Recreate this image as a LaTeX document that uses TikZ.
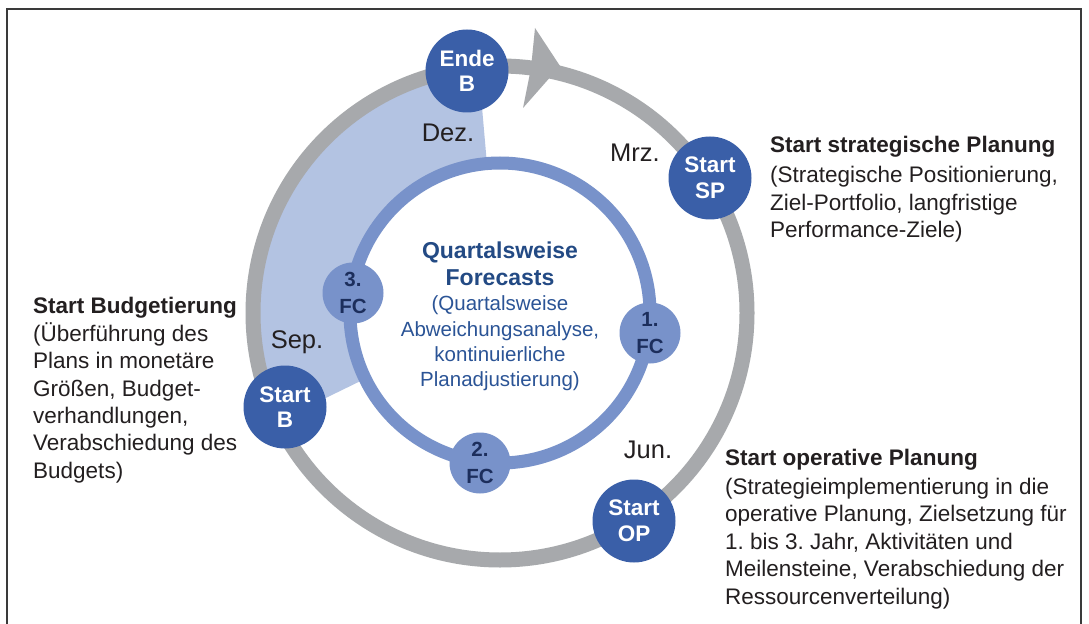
\documentclass[tikz,border=0pt]{standalone}
\usepackage{fontspec}
\setmainfont{Liberation Sans}
\definecolor{ringgray}{HTML}{A7A9AC}
\definecolor{wedgeblue}{HTML}{B3C3E2}
\definecolor{ringblue}{HTML}{7892CA}
\definecolor{nodeblue}{HTML}{3A5FA8}
\definecolor{fcnavy}{HTML}{1C2E5C}
\definecolor{titleblue}{HTML}{234A84}
\definecolor{captionblue}{HTML}{2B5496}
\definecolor{txtblack}{HTML}{231F20}
\definecolor{framegray}{HTML}{3A3A3A}
\tikzset{
  outerring/.style={draw=ringgray, line width=15bp},
  innerring/.style={draw=ringblue, line width=13bp},
  milestone/.style={circle, fill=nodeblue, text=white, inner sep=0pt,
    minimum size=83bp, align=center,
    font=\bfseries\fontsize{22.5bp}{25.5bp}\selectfont},
  fcnode/.style={circle, fill=ringblue, text=fcnavy, inner sep=0pt,
    minimum size=61bp, align=center,
    font=\bfseries\fontsize{20.5bp}{27bp}\selectfont},
  month/.style={anchor=base, inner sep=0pt, text=txtblack,
    font=\fontsize{25.5bp}{30bp}\selectfont},
  heading/.style={anchor=base west, inner sep=0pt, text=txtblack,
    font=\bfseries\fontsize{22.5bp}{27bp}\selectfont},
  bodyline/.style={anchor=base west, inner sep=0pt, text=txtblack,
    font=\fontsize{22.5bp}{27bp}\selectfont},
  centertitle/.style={anchor=base, inner sep=0pt, text=titleblue,
    font=\bfseries\fontsize{23bp}{27bp}\selectfont},
  centerline/.style={anchor=base, inner sep=0pt, text=captionblue,
    font=\fontsize{20.5bp}{25bp}\selectfont},
}
\begin{document}
\frenchspacing
\begin{tikzpicture}[x=1bp,y=-1bp]
\useasboundingbox (0,0) rectangle (1089,624);
\fill[white] (0,0) rectangle (1089,624);

% frame, open at the bottom
\draw[framegray, line width=2.5bp] (7,624) -- (7,9) -- (1081,9) -- (1081,624);

% centre of both rings
\coordinate (c) at (500,313);

% shaded budgeting period (Sep. to Dez.)
\fill[wedgeblue] ([shift={(500,313)}]-95:247) arc[start angle=-95, end angle=-206, radius=247]
  -- ([shift={(500,313)}]-206:150) arc[start angle=-206, end angle=-95, radius=150] -- cycle;

% yearly cycle with its arrow head
\draw[outerring] (c) circle[radius=247];
\fill[ringgray] (535,28) -- (560,66) -- (523,108) -- (531,68) -- cycle;

% quarterly forecast ring
\draw[innerring] (c) circle[radius=150];

% milestones on the yearly cycle
\node[milestone] (endeB)   at (467,71)  {Ende\\B};
\node[milestone] (startSP) at (710,178) {Start\\SP};
\node[milestone] (startB)  at (285,407) {Start\\B};
\node[milestone] (startOP) at (634,521) {Start\\OP};

% forecasts on the inner ring
\node[fcnode] (fc1) at (650,333) {1.\\FC};
\node[fcnode] (fc2) at (480,463) {2.\\FC};
\node[fcnode] (fc3) at (353,293) {3.\\FC};

% months
\node[month] (dez) at (448,142) {Dez.};
\node[month] (mrz) at (635,162) {Mrz.};
\node[month] (sep) at (297,348) {Sep.};
\node[month] (jun) at (648,458) {Jun.};

% centre caption
\node[centertitle] (qt1) at (500,259) {Quartalsweise};
\node[centertitle] (qt2) at (500,285.5) {Forecasts};
\foreach \ln [count=\k from 0] in {{(Quartalsweise}, {Abweichungsanalyse,},
    {kontinuierliche}, {Planadjustierung)}}
  \node[centerline] (qc\k) at (500,{311+25*\k}) {\ln};

% strategic planning
\node[heading] (spHead) at (770,153) {Start strategische Planung};
\foreach \ln [count=\k from 0] in {{(Strategische Positionierung,},
    {Ziel-Portfolio, langfristige}, {Performance-Ziele)}}
  \node[bodyline] (spText\k) at (770,{183+27.4*\k}) {\ln};

% budgeting
\node[heading] (bHead) at (33,314) {Start Budgetierung};
\foreach \ln [count=\k from 0] in {{(Überführung des}, {Plans in monetäre},
    {Größen, Budget-}, {verhandlungen,}, {Verabschiedung des}, {Budgets)}}
  \node[bodyline] (bText\k) at (33,{341.5+27.3*\k}) {\ln};

% operative planning
\node[heading] (opHead) at (725,465) {Start operative Planung};
\foreach \ln [count=\k from 0] in {{(Strategieimplementierung in die},
    {operative Planung, Zielsetzung für}, {1. bis 3. Jahr, Aktivitäten und},
    {Meilensteine, Verabschiedung der}, {Ressourcenverteilung)}}
  \node[bodyline] (opText\k) at (725,{494+27.5*\k}) {\ln};
\end{tikzpicture}
\end{document}
